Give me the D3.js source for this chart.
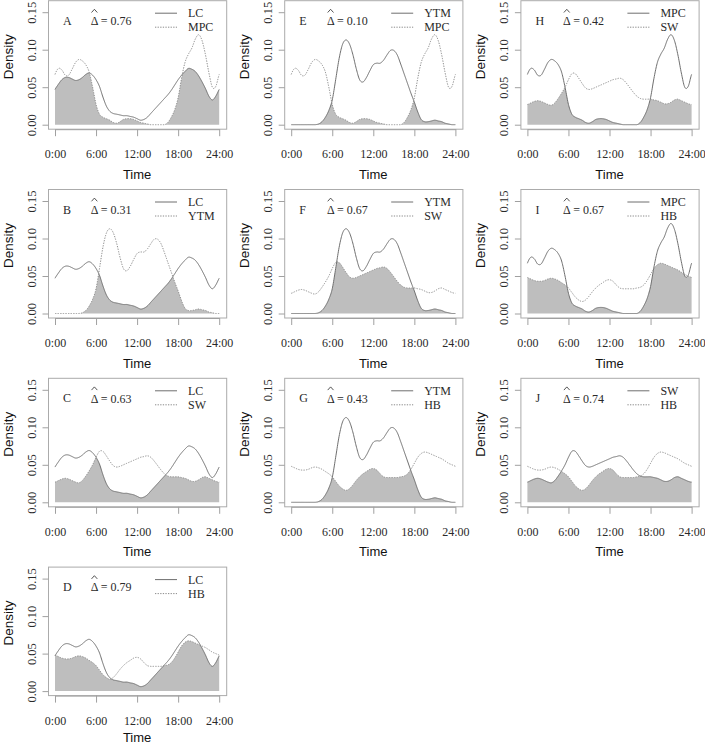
<!DOCTYPE html>
<html>
<head>
<meta charset="utf-8">
<script src="https://cdn.jsdelivr.net/npm/d3@7"></script>
<style>
  html, body { margin: 0; padding: 0; background: #fff; }
  svg { display: block; }
</style>
</head>
<body>
<svg id="chart" width="705" height="745"></svg>
<script>
// ---------- DATA (density, every 0.5 h from 0:00 to 23:30) ----------
const timeGrid = [0,0.5,1,1.5,2,2.5,3,3.5,4,4.5,5,5.5,6,6.5,7,7.5,8,8.5,9,9.5,10,10.5,11,11.5,
                  12,12.5,13,13.5,14,14.5,15,15.5,16,16.5,17,17.5,18,18.5,19,19.5,20,20.5,21,21.5,22,22.5,23,23.5];

const LC  = [0.047,0.054,0.060,0.063,0.063,0.061,0.059,0.060,0.063,0.067,0.069,0.066,0.060,0.051,0.037,0.025,
             0.018,0.015,0.014,0.013,0.012,0.012,0.011,0.010,0.008,0.006,0.007,0.010,0.015,0.020,0.025,0.030,
             0.035,0.040,0.046,0.053,0.060,0.066,0.071,0.075,0.074,0.071,0.065,0.057,0.048,0.038,0.033,0.038];
const MPC = [0.067,0.075,0.073,0.066,0.066,0.074,0.083,0.087,0.085,0.080,0.070,0.050,0.027,0.014,0.010,0.008,
             0.006,0.003,0.002,0.004,0.007,0.008,0.008,0.007,0.005,0.003,0.002,0.001,0.000,0.000,0.000,0.000,
             0.000,0.003,0.010,0.020,0.036,0.062,0.083,0.094,0.102,0.114,0.120,0.112,0.093,0.069,0.050,0.051];
const YTM = [0,0,0,0,0,0,0,0,0.001,0.004,0.010,0.019,0.033,0.060,0.088,0.107,
             0.113,0.108,0.094,0.075,0.060,0.057,0.063,0.072,0.080,0.082,0.082,0.086,0.093,0.099,0.099,0.093,
             0.081,0.068,0.055,0.042,0.030,0.017,0.007,0.004,0.004,0.005,0.006,0.005,0.004,0.002,0.001,0.000];
const SW  = [0.027,0.029,0.031,0.032,0.031,0.029,0.027,0.026,0.029,0.035,0.042,0.050,0.060,0.068,0.068,0.062,
             0.055,0.049,0.047,0.048,0.050,0.052,0.054,0.056,0.058,0.060,0.061,0.062,0.060,0.055,0.049,0.043,
             0.038,0.035,0.034,0.034,0.034,0.033,0.032,0.030,0.028,0.028,0.030,0.033,0.034,0.032,0.030,0.028];
const HB  = [0.048,0.046,0.044,0.043,0.043,0.044,0.046,0.047,0.046,0.044,0.041,0.038,0.034,0.028,0.022,0.018,
             0.016,0.018,0.023,0.029,0.034,0.038,0.041,0.044,0.045,0.043,0.038,0.034,0.033,0.033,0.033,0.033,
             0.034,0.035,0.038,0.044,0.052,0.060,0.065,0.067,0.066,0.064,0.062,0.060,0.058,0.055,0.052,0.050];

const species = { LC, MPC, YTM, SW, HB };

const panelLetters  = ["A","B","C","D","E","F","G","H","I","J"];
const firstSpecies  = ["LC","LC","LC","LC","YTM","YTM","YTM","MPC","MPC","SW"];
const secondSpecies = ["MPC","YTM","SW","HB","MPC","SW","HB","SW","HB","HB"];
const deltaValues   = ["0.76","0.31","0.63","0.79","0.10","0.67","0.43","0.42","0.67","0.74"];
const columns       = [["A","B","C","D"],["E","F","G"],["H","I","J"]];

const xTicks = [0,6,12,18,24];
const xTickLabels = ["0:00","6:00","12:00","18:00","24:00"];
const yTicks = [0,0.05,0.10,0.15];
const yTickLabels = ["0.00","0.05","0.10","0.15"];

// ---------- smooth circular evaluation of a density ----------
function evalDensity(vals, t) {
  const n = vals.length, h = 24 / n;
  const u = t / h;
  let i = Math.floor(u); if (i >= n) i = n - 1; if (i < 0) i = 0;
  const s = u - i;
  const p0 = vals[(i - 1 + n) % n], p1 = vals[i % n], p2 = vals[(i + 1) % n], p3 = vals[(i + 2) % n];
  const m1 = (p2 - p0) / 2, m2 = (p3 - p1) / 2;
  const s2 = s * s, s3 = s2 * s;
  const v = (2*s3 - 3*s2 + 1) * p1 + (s3 - 2*s2 + s) * m1 + (-2*s3 + 3*s2) * p2 + (s3 - s2) * m2;
  return Math.max(0, v);
}
const sampleT = d3.range(0, 24.0001, 0.05);

// ---------- drawing ----------
const svg = d3.select("#chart");
svg.append("rect").attr("width", 705).attr("height", 745).attr("fill", "#fff");

const SERIF = "'Liberation Serif', 'Times New Roman', serif";
const SANS = "'Liberation Sans', Arial, sans-serif";
const textCol = "#2a2a2a";

columns.forEach((col, c) => {
  col.forEach((letter, r) => {
    const k = panelLetters.indexOf(letter);
    const x0 = 55 + c * 236.2;
    const y0 = 124.7 + r * 188.8;
    const x = d3.scaleLinear().domain([0, 24]).range([x0, x0 + 164.2]);
    const y = d3.scaleLinear().domain([0, 0.15]).range([y0, y0 - 112.5]);

    const g = svg.append("g");
    const a = species[firstSpecies[k]], b = species[secondSpecies[k]];
    const pts = sampleT.map(t => ({ t, a: evalDensity(a, t), b: evalDensity(b, t) }));

    // overlap shading
    g.append("path")
      .attr("fill", "#bebebe")
      .attr("d", d3.area().x(d => x(d.t)).y0(y(0)).y1(d => y(Math.min(d.a, d.b)))(pts));

    // curves
    g.append("path")
      .attr("fill", "none").attr("stroke", "#6e6e6e").attr("stroke-width", 1)
      .attr("d", d3.line().x(d => x(d.t)).y(d => y(d.a))(pts));
    g.append("path")
      .attr("fill", "none").attr("stroke", "#8a8a8a").attr("stroke-width", 1)
      .attr("stroke-dasharray", "1.3,1.3")
      .attr("d", d3.line().x(d => x(d.t)).y(d => y(d.b))(pts));

    // box
    const bx0 = x(0) - 6.5, bx1 = x(24) + 7.5, by0 = y0 - 124, by1 = y0 + 4.5;
    g.append("rect")
      .attr("x", bx0).attr("y", by0).attr("width", bx1 - bx0).attr("height", by1 - by0)
      .attr("fill", "none").attr("stroke", "#ababab").attr("stroke-width", 1);

    // x axis
    const xa = g.append("g").attr("transform", `translate(0,${by1})`)
      .call(d3.axisBottom(x).tickValues(xTicks).tickFormat((d, i) => xTickLabels[i]).tickSize(7).tickSizeOuter(0));
    xa.select(".domain").attr("stroke", "#a0a0a0");
    xa.selectAll(".tick line").attr("stroke", "#a0a0a0");
    xa.selectAll(".tick text").attr("y", 29).attr("dy", null)
      .attr("font-family", SERIF).attr("font-size", 12).attr("fill", textCol);

    // y axis
    const ya = g.append("g").attr("transform", `translate(${bx0},0)`)
      .call(d3.axisLeft(y).tickValues(yTicks).tickFormat((d, i) => yTickLabels[i]).tickSize(6).tickSizeOuter(0));
    ya.select(".domain").remove();
    ya.selectAll(".tick line").attr("stroke", "#a0a0a0");
    ya.selectAll(".tick text")
      .attr("x", 0).attr("y", -12.8).attr("dy", null)
      .attr("transform", "rotate(-90)")
      .attr("text-anchor", "middle")
      .attr("font-family", SERIF).attr("font-size", 12.5).attr("fill", textCol);

    // axis titles
    g.append("text").attr("x", x(12)).attr("y", Math.min(y0 + 54, 741.5))
      .attr("text-anchor", "middle").attr("font-family", SANS).attr("font-size", 13)
      .attr("fill", "#111").text("Time");
    g.append("text")
      .attr("transform", `translate(${x(0) - 42.5},${y0 - 68}) rotate(-90)`)
      .attr("text-anchor", "middle").attr("font-family", SANS).attr("font-size", 13.5)
      .attr("fill", "#111").text("Density");

    // panel letter
    g.append("text").attr("x", x(0) + 8).attr("y", y0 - 100)
      .attr("font-family", SERIF).attr("font-size", 12).attr("fill", textCol).text(letter);

    // delta hat text
    const dx = x(0) + 35.7, dy = y0 - 99.7;
    const dt = g.append("text").attr("x", dx).attr("y", dy)
      .attr("font-family", SERIF).attr("font-size", 12).attr("fill", textCol);
    dt.append("tspan").text("\u0394");
    dt.append("tspan").text(" = " + deltaValues[k]);
    g.append("path")
      .attr("d", `M${dx + 0.8},${y0 - 112.2} L${dx + 3.7},${y0 - 115.4} L${dx + 6.6},${y0 - 112.2}`)
      .attr("fill", "none").attr("stroke", textCol).attr("stroke-width", 0.8);

    // legend
    const lx = x(0) + 100;
    g.append("line").attr("x1", lx).attr("x2", lx + 22).attr("y1", y0 - 111.5).attr("y2", y0 - 111.5)
      .attr("stroke", "#6e6e6e").attr("stroke-width", 1);
    g.append("line").attr("x1", lx).attr("x2", lx + 22).attr("y1", y0 - 97.5).attr("y2", y0 - 97.5)
      .attr("stroke", "#8a8a8a").attr("stroke-width", 1).attr("stroke-dasharray", "1.3,1.3");
    g.append("text").attr("x", lx + 33).attr("y", y0 - 107.3)
      .attr("font-family", SERIF).attr("font-size", 12).attr("fill", textCol).text(firstSpecies[k]);
    g.append("text").attr("x", lx + 33).attr("y", y0 - 93.5)
      .attr("font-family", SERIF).attr("font-size", 12).attr("fill", textCol).text(secondSpecies[k]);
  });
});
</script>
</body>
</html>
